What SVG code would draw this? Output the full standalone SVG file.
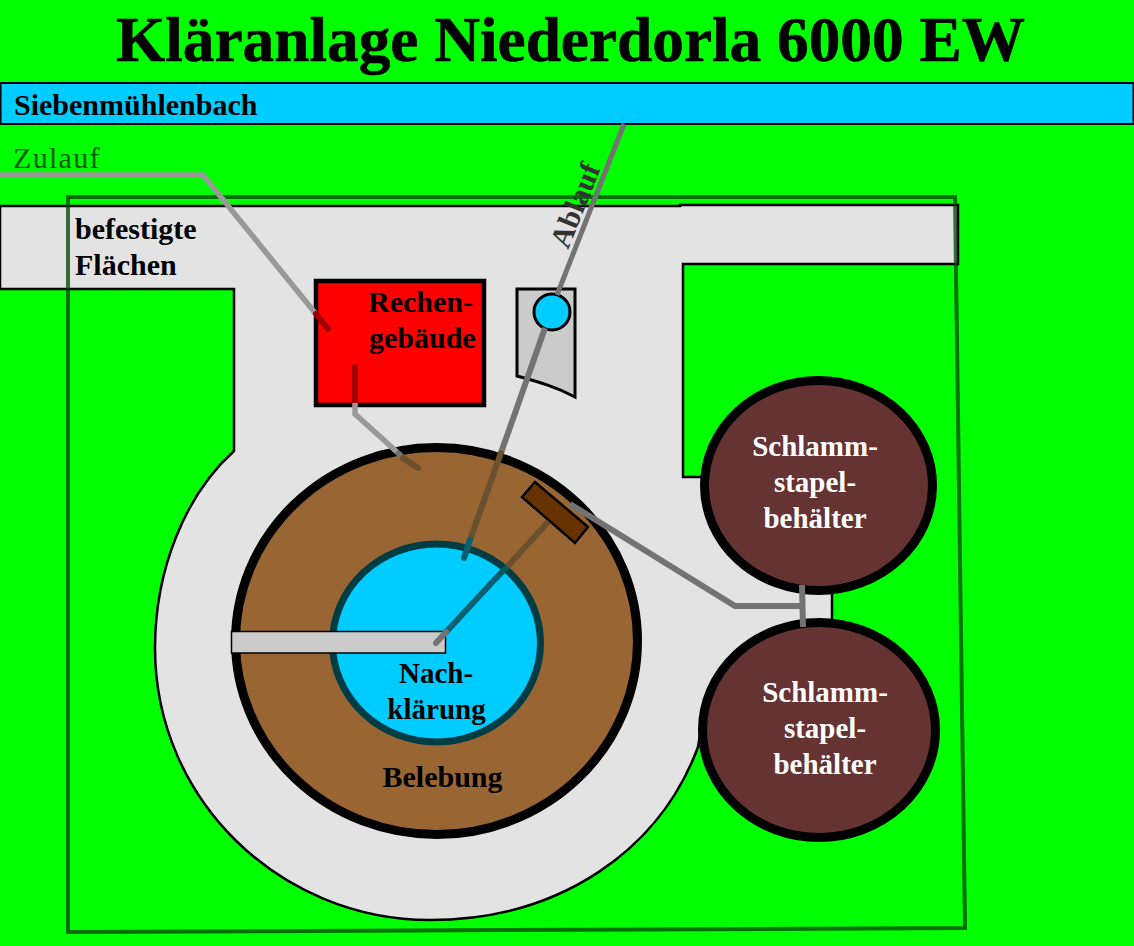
<svg xmlns="http://www.w3.org/2000/svg" width="1134" height="946" viewBox="0 0 1134 946">
<style>
.s{font-family:"Liberation Serif","Times New Roman",serif;font-weight:bold;font-size:29px;fill:#000}
.b{font-size:30px}
.w{fill:#fff;text-anchor:middle}
.c{text-anchor:middle}
.p{fill:none;stroke:#737373;stroke-width:6;stroke-linejoin:miter}
.g{stroke:#999;stroke-width:5.500}
.r{stroke:#a00000;stroke-linecap:round}
.m{stroke:#6b5030}
.t{stroke:#0a5f70;stroke-linecap:round}
.k{stroke:#005a5a}
</style>
<rect width="1134" height="946" fill="#00ff00"/>
<text id="title" x="570.500" y="61" text-anchor="middle" stroke="#000" stroke-width=".6" style="font-family:'Liberation Serif',serif;font-weight:bold;font-size:63.300px">Kläranlage Niederdorla 6000 EW</text>
<g id="bach"><rect x="0.500" y="83" width="1133" height="41" fill="#00ccff" stroke="#000" stroke-width="2"/><text class="s b" x="14" y="115">Siebenmühlenbach</text></g>
<g id="flaechen">
<path d="M0 206H680V205H958V264H683V477H702C708 540 750 580 818 592H832V621H800C745 640 708 680 698 747C660 850 560 920 430 920C280 920 155 800 155 648C155 570 185 495 234 451V289H0Z" fill="#e3e3e3" stroke="#000" stroke-width="2.500"/>
<text class="s b" x="75" y="239">befestigte</text><text class="s b" x="75" y="275">Flächen</text></g>
<g id="zaun"><path d="M68 197H955L965 928L68 932Z" fill="none" stroke="#004000" stroke-opacity=".75" stroke-width="4"/></g>
<g id="rechen"><rect x="316" y="281" width="168" height="124" fill="#ff0000" stroke="#000" stroke-width="4.500"/><text class="s b" x="368" y="312">Rechen-</text><text class="s b" x="369" y="348">gebäude</text></g>
<g id="ablaufbau"><path d="M517 289H575V397C555 386 535 381 517 376Z" fill="#cbcbcb" stroke="#000" stroke-width="3"/><circle cx="552" cy="312" r="18" fill="#00ccff" stroke="#000" stroke-width="3"/></g>
<g id="belebung"><ellipse cx="436.500" cy="641" rx="201" ry="193.500" fill="#996633" stroke="#000" stroke-width="9"/><text class="s b c" x="442.500" y="787">Belebung</text></g>
<g id="nachklaerung"><ellipse cx="436.500" cy="643" rx="104" ry="99" fill="#00ccff" stroke="#003c44" stroke-width="7"/><rect x="231.500" y="631.500" width="214" height="21.500" fill="#cbcbcb" stroke="#000" stroke-width="1.500"/><text class="s c" x="436" y="683">Nach-</text><text class="s c" x="436.500" y="719">klärung</text></g>
<g id="schieber"><path d="M535 482L588 527L575 543L522 497Z" fill="#663300" stroke="#000" stroke-width="2.500"/></g>
<g id="stapel1"><ellipse cx="818.500" cy="485.500" rx="114" ry="105" fill="#663333" stroke="#000" stroke-width="9"/><text class="s w" x="815" y="456">Schlamm-</text><text class="s w" x="815" y="492">stapel-</text><text class="s w" x="815" y="528">behälter</text></g>
<g id="stapel2"><ellipse cx="819" cy="730" rx="116.500" ry="107.500" fill="#663333" stroke="#000" stroke-width="9"/><text class="s w" x="825" y="702">Schlamm-</text><text class="s w" x="825" y="738">stapel-</text><text class="s w" x="825" y="774">behälter</text></g>
<g id="connectors">
<path class="p g" d="M0 175H203L316 314"/>
<path class="p r" d="M316 314L328 329"/>
<path class="p r" d="M355 367V403"/>
<path class="p g" d="M355 403V414L397 452"/>
<path class="p" d="M397 452L403 458"/>
<path class="p m" style="stroke-linecap:round" d="M403 458L418 468"/>
<path class="p" style="stroke-width:5" d="M624 124L557 295"/>
<path class="p" d="M545 328L502 450"/>
<path class="p m" d="M502 450L470 540"/>
<path class="p t" d="M470 540L464 558"/>
<path class="p m" d="M548 522L507 567"/>
<path class="p k" d="M507 567L497 577"/>
<path class="p t" d="M497 577L446 632"/>
<path class="p" style="stroke-linecap:round" d="M446 632L436 643"/>
<path class="p" d="M570 504L735 606H802"/>
<path class="p" d="M802 585L803 627"/>
</g>
<text id="zulauf" x="13" y="168" letter-spacing="1.300" style="font-family:'Liberation Serif',serif;font-size:30px;fill:#005a00">Zulauf</text>
<text id="ablauf" transform="translate(568 250) rotate(-68)" style="font-family:'Liberation Serif',serif;font-size:30px;font-weight:bold;fill:#333">Ablauf</text>
</svg>
